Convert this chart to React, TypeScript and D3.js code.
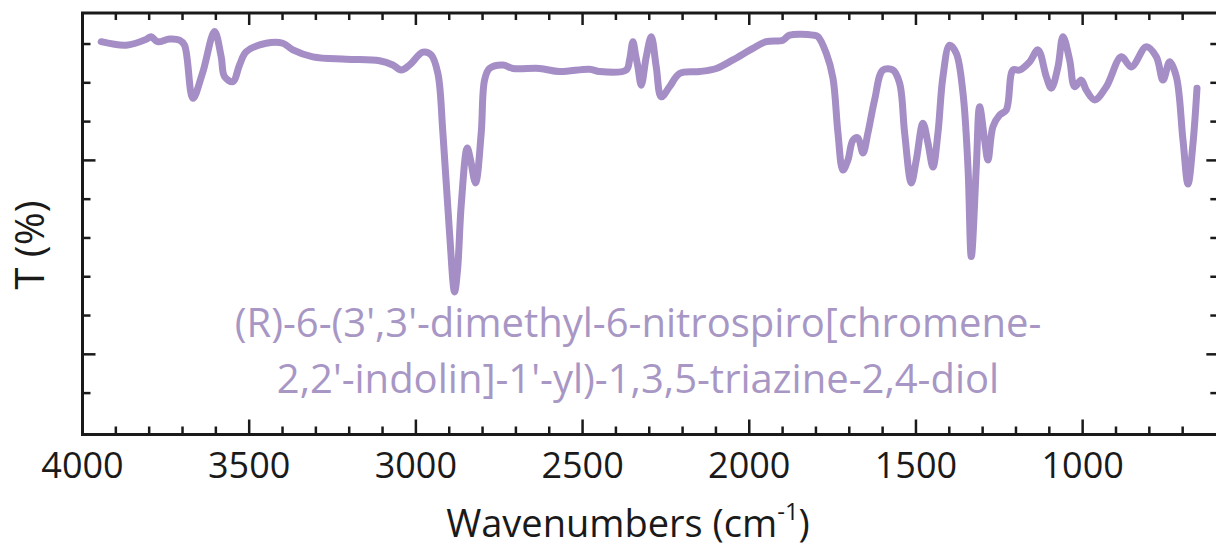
import React from 'react';
import * as d3 from 'd3';

// Wavenumber (cm-1) and transmittance (arbitrary %)
const wavenumbers = [
  3944, 3869, 3809, 3794, 3775, 3739, 3709, 3694, 3669, 3640, 3604, 3584, 3574, 3549, 3529, 3509,
  3449, 3399, 3369, 3309, 3209, 3109, 3069, 3044, 3019, 2979, 2954, 2934, 2919, 2899, 2884, 2875,
  2864, 2846, 2836, 2821, 2804, 2794, 2779, 2739, 2709, 2629, 2569, 2479, 2449, 2369, 2359, 2349,
  2341, 2334, 2324, 2309, 2294, 2279, 2264, 2239, 2209, 2149, 2099, 2049, 1989, 1949, 1899, 1879,
  1809, 1794, 1769, 1749, 1734, 1719, 1704, 1689, 1674, 1659, 1644, 1624, 1599, 1569, 1549, 1534,
  1514, 1499, 1479, 1464, 1449, 1434, 1419, 1399, 1379, 1359, 1344, 1334, 1319, 1309, 1294, 1284,
  1269, 1249, 1229, 1209, 1189, 1159, 1134, 1109, 1094, 1074, 1059, 1039, 1024, 1004, 989, 964,
  929, 884, 854, 809, 779, 759, 739, 719, 699, 684, 669, 657,
];
const transmittance = [
  100.6, 99.7, 101.2, 101.9, 100.6, 101.3, 101.0, 99.7, 86.0, 92.5, 103.2, 96.7, 91.6, 90.3, 94.6, 98.0,
  100.2, 100.2, 98.5, 96.7, 96.1, 95.7, 94.6, 93.3, 94.6, 97.9, 97.2, 92.4, 77.1, 51.3, 36.1, 41.8,
  58.5, 73.2, 70.1, 64.2, 77.1, 90.7, 93.7, 94.6, 93.7, 93.7, 92.9, 93.5, 92.9, 93.3, 95.9, 100.6,
  97.2, 94.1, 89.4, 96.7, 101.9, 94.1, 86.4, 89.0, 92.4, 92.9, 93.7, 95.9, 98.9, 100.6, 101.0, 102.3,
  102.3, 101.9, 97.6, 91.2, 77.1, 67.5, 70.1, 75.2, 75.8, 71.9, 77.1, 85.6, 93.3, 93.3, 89.9, 77.1,
  64.2, 70.1, 79.6, 74.5, 68.3, 77.1, 91.6, 99.7, 97.6, 87.4, 68.3, 45.2, 68.3, 83.8, 75.2, 70.1,
  78.7, 81.7, 83.0, 93.3, 93.3, 95.4, 98.5, 91.6, 88.6, 94.1, 101.9, 95.9, 89.0, 90.7, 88.1, 85.6,
  89.0, 96.7, 94.1, 99.3, 96.7, 90.7, 95.4, 91.6, 75.2, 63.9, 74.4, 88.6,
];

const xMajorTicks = [4000, 3500, 3000, 2500, 2000, 1500, 1000];
const xMinorTicks = [
  3900, 3800, 3700, 3600, 3400, 3300, 3200, 3100, 2900, 2800, 2700, 2600, 2400, 2300, 2200, 2100,
  1900, 1800, 1700, 1600, 1400, 1300, 1200, 1100, 900, 800, 700,
];
const yMinorTicks = [10, 30, 40, 50, 60, 80, 90, 100];
const yMajorTicks = [20, 70];
const compoundLines = [
  "(R)-6-(3',3'-dimethyl-6-nitrospiro[chromene-",
  "2,2'-indolin]-1'-yl)-1,3,5-triazine-2,4-diol",
];

export default function App() {
  const W = 1216;
  const H = 550;
  const x = d3.scaleLinear().domain([4000, 600]).range([82.5, 1216]);
  const y = d3.scaleLinear().domain([-0.8, 108]).range([435, 13]);
  const left = x(4000);
  const right = x(593);
  const top = y(108);
  const bottom = y(-0.8) - 0.5;

  const pts: [number, number][] = wavenumbers.map((w, i) => [w, transmittance[i]]);
  const line = d3
    .line<[number, number]>()
    .x((d) => x(d[0]))
    .y((d) => y(d[1]))
    .curve(d3.curveCatmullRom.alpha(0.5));

  const font = "'Open Sans', 'Noto Sans', sans-serif";
  const ink = '#1a1a1a';
  const tickW = 2.5;

  return (
    <svg
      width={W}
      height={H}
      style={{ position: 'absolute', left: 0, top: 0, background: '#fff' }}
      fontFamily={font}
    >
      <rect x={0} y={0} width={W} height={H} fill="#fff" />
      {/* curve */}
      <path
        d={line(pts) || ''}
        fill="none"
        stroke="#a58dc5"
        strokeWidth={7}
        strokeLinejoin="round"
        strokeLinecap="round"
      />
      {/* compound name */}
      {compoundLines.map((t, i) => (
        <text
          key={i}
          x={638}
          y={337 + i * 56}
          textAnchor="middle"
          fontSize={40}
          fill="#a897c5"
        >
          {t}
        </text>
      ))}
      {/* frame */}
      <rect
        x={left}
        y={top}
        width={right - left}
        height={bottom - top}
        fill="none"
        stroke={ink}
        strokeWidth={3}
      />
      {/* x ticks bottom & top */}
      {xMajorTicks.map((v) => (
        <g key={'xM' + v}>
          <line x1={x(v)} x2={x(v)} y1={bottom} y2={bottom - 15} stroke={ink} strokeWidth={tickW} />
          <line x1={x(v)} x2={x(v)} y1={top} y2={top + 12} stroke={ink} strokeWidth={tickW} />
          <text x={x(v)} y={478} textAnchor="middle" fontSize={36} fill={ink}>
            {v}
          </text>
        </g>
      ))}
      {xMinorTicks.map((v) => (
        <g key={'xm' + v}>
          <line x1={x(v)} x2={x(v)} y1={bottom} y2={bottom - 8} stroke={ink} strokeWidth={tickW} />
          <line x1={x(v)} x2={x(v)} y1={top} y2={top + 7} stroke={ink} strokeWidth={tickW} />
        </g>
      ))}
      {/* y ticks left & right */}
      {yMajorTicks.map((v) => (
        <g key={'yM' + v}>
          <line x1={left} x2={left + 13} y1={y(v)} y2={y(v)} stroke={ink} strokeWidth={tickW} />
          <line x1={right} x2={right - 12} y1={y(v)} y2={y(v)} stroke={ink} strokeWidth={tickW} />
        </g>
      ))}
      {yMinorTicks.map((v) => (
        <g key={'ym' + v}>
          <line x1={left} x2={left + 8} y1={y(v)} y2={y(v)} stroke={ink} strokeWidth={tickW} />
          <line x1={right} x2={right - 8} y1={y(v)} y2={y(v)} stroke={ink} strokeWidth={tickW} />
        </g>
      ))}
      {/* axis titles */}
      <text x={628} y={537} textAnchor="middle" fontSize={38} fill={ink}>
        Wavenumbers (cm
        <tspan dy={-17} fontSize={24}>
          -1
        </tspan>
        <tspan dy={17}>)</tspan>
      </text>
      <text
        transform="translate(44,245) rotate(-90)"
        textAnchor="middle"
        fontSize={40}
        fill={ink}
      >
        T (%)
      </text>
    </svg>
  );
}
